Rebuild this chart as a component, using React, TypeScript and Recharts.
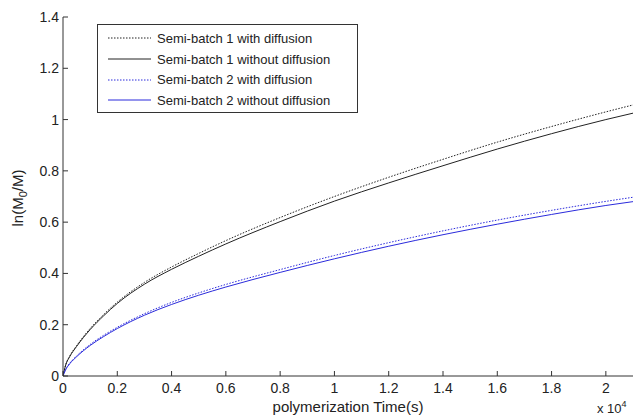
import { LineChart, Line, XAxis, YAxis, Legend } from "recharts";

// time axis in units of 1e4 s
const timeE4 = [0, 0.01, 0.025, 0.05, 0.1, 0.15, 0.2, 0.3, 0.4, 0.5, 0.6, 0.8, 1.0, 1.2, 1.4, 1.6, 1.8, 2.0, 2.1];
const sb1WithDiff = [0, 0.044, 0.078, 0.118, 0.185, 0.24, 0.288, 0.365, 0.425, 0.478, 0.528, 0.618, 0.7, 0.775, 0.845, 0.912, 0.973, 1.03, 1.057];
const sb1NoDiff = [0, 0.043, 0.076, 0.115, 0.181, 0.235, 0.283, 0.358, 0.416, 0.467, 0.515, 0.602, 0.682, 0.753, 0.82, 0.885, 0.945, 1.0, 1.025];
const sb2WithDiff = [0, 0.026, 0.05, 0.078, 0.123, 0.159, 0.19, 0.243, 0.287, 0.324, 0.357, 0.415, 0.47, 0.52, 0.566, 0.608, 0.646, 0.681, 0.697];
const sb2NoDiff = [0, 0.025, 0.048, 0.075, 0.119, 0.154, 0.185, 0.237, 0.279, 0.315, 0.347, 0.404, 0.457, 0.506, 0.551, 0.592, 0.63, 0.665, 0.68];

const seriesNames = [
  "Semi-batch 1 with diffusion",
  "Semi-batch 1 without diffusion",
  "Semi-batch 2 with diffusion",
  "Semi-batch 2 without diffusion",
];
const xTicks = [0, 0.2, 0.4, 0.6, 0.8, 1, 1.2, 1.4, 1.6, 1.8, 2];
const yTicks = [0, 0.2, 0.4, 0.6, 0.8, 1, 1.2, 1.4];

const data = timeE4.map((t, i) => ({
  t,
  s1d: sb1WithDiff[i],
  s1n: sb1NoDiff[i],
  s2d: sb2WithDiff[i],
  s2n: sb2NoDiff[i],
}));

const FONT = '"Liberation Sans", Arial, sans-serif';
const AXIS = "#333";
const BLACK = "#222";
const BLUE = "#2b2bdc";

const styles = [
  { key: "s1d", color: BLACK, dash: "1.5 1.5" },
  { key: "s1n", color: BLACK, dash: undefined },
  { key: "s2d", color: BLUE, dash: "1.5 1.5" },
  { key: "s2n", color: BLUE, dash: undefined },
];

const fmt = (v: number) => String(Number(v.toFixed(1)));

const BottomTick = ({ x, y, payload }: any) => (
  <g>
    <line x1={x} x2={x} y1={y} y2={y - 5} stroke={AXIS} />
    <text x={x} y={y + 17} textAnchor="middle" fontSize={14} fill="#222" fontFamily={FONT}>
      {fmt(payload.value)}
    </text>
  </g>
);

const LeftTick = ({ x, y, payload }: any) => (
  <g>
    <line x1={x} x2={x + 5} y1={y} y2={y} stroke={AXIS} />
    <text x={x - 4} y={y + 5} textAnchor="end" fontSize={14} fill="#222" fontFamily={FONT}>
      {fmt(payload.value)}
    </text>
  </g>
);

const TopTick = ({ x, y }: any) => <line x1={x} x2={x} y1={y} y2={y + 5} stroke={AXIS} />;
const RightTick = ({ x, y }: any) => <line x1={x} x2={x - 5} y1={y} y2={y} stroke={AXIS} />;

const renderLegend = () => (
  <div
    style={{
      border: `1px solid ${AXIS}`,
      background: "#fff",
      padding: "3px 0 3px 10px",
      fontFamily: FONT,
      fontSize: 13,
      color: "#222",
      boxSizing: "border-box",
      width: 261,
      height: 89,
    }}
  >
    {seriesNames.map((name, i) => (
      <div key={name} style={{ display: "flex", alignItems: "center", height: 20.7 }}>
        <svg width={43} height={6} style={{ marginRight: 6 }}>
          <line
            x1={0}
            x2={43}
            y1={3}
            y2={3}
            stroke={styles[i].color}
            strokeWidth={1}
            strokeDasharray={styles[i].dash}
          />
        </svg>
        <span>{name}</span>
      </div>
    ))}
  </div>
);

const YLabel = () => (
  <text
    x={23}
    y={198}
    transform="rotate(-90 23 198)"
    textAnchor="middle"
    fontSize={15}
    fill="#222"
    fontFamily={FONT}
  >
    ln(M<tspan dy={4} fontSize={11}>0</tspan>
    <tspan dy={-4}>/M)</tspan>
  </text>
);

const XLabel = () => (
  <text x={348} y={412} textAnchor="middle" fontSize={15} fill="#222" fontFamily={FONT}>
    polymerization Time(s)
  </text>
);

export default function App() {
  return (
    <div style={{ position: "absolute", left: 0, top: 0, width: 636, height: 418, background: "#fff" }}>
      <LineChart width={636} height={418} data={data} margin={{ top: 17, right: 3, bottom: 12, left: 23 }}>
        <XAxis
          dataKey="t"
          type="number"
          domain={[0, 2.1]}
          ticks={xTicks}
          allowDataOverflow
          height={30}
          tickSize={0}
          tickMargin={0}
          tickLine={false}
          stroke={AXIS}
          tick={<BottomTick />}
          label={<XLabel />}
        />
        <XAxis
          xAxisId="top"
          orientation="top"
          dataKey="t"
          type="number"
          domain={[0, 2.1]}
          ticks={xTicks}
          allowDataOverflow
          height={0}
          tickSize={0}
          tickMargin={0}
          tickLine={false}
          stroke={AXIS}
          tick={<TopTick />}
        />
        <YAxis
          type="number"
          domain={[0, 1.4]}
          ticks={yTicks}
          width={40}
          tickSize={0}
          tickMargin={0}
          tickLine={false}
          stroke={AXIS}
          tick={<LeftTick />}
          label={<YLabel />}
        />
        <YAxis
          yAxisId="right"
          orientation="right"
          type="number"
          domain={[0, 1.4]}
          ticks={yTicks}
          width={0}
          tickSize={0}
          tickMargin={0}
          tickLine={false}
          stroke={AXIS}
          tick={<RightTick />}
        />
        {styles.map((s, i) => (
          <Line
            key={s.key}
            dataKey={s.key}
            name={seriesNames[i]}
            type="monotone"
            stroke={s.color}
            strokeWidth={1}
            strokeDasharray={s.dash}
            dot={false}
            activeDot={false}
            isAnimationActive={false}
          />
        ))}
        <Legend
          layout="horizontal"
          verticalAlign="middle"
          align="center"
          content={renderLegend}
          wrapperStyle={{ left: 97, top: 24, width: 261, height: 89 }}
        />
      </LineChart>
      <div
        style={{
          position: "absolute",
          left: 597,
          top: 399,
          fontFamily: FONT,
          fontSize: 13,
          color: "#222",
          whiteSpace: "nowrap",
        }}
      >
        x 10<sup style={{ fontSize: 9, verticalAlign: "6px" }}>4</sup>
      </div>
    </div>
  );
}
